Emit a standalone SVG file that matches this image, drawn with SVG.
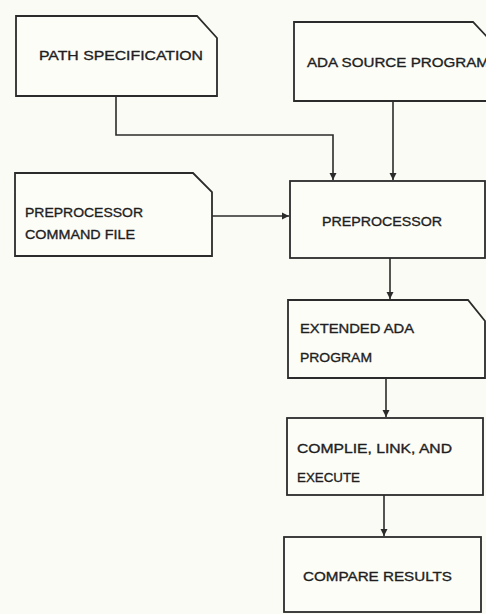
<svg xmlns="http://www.w3.org/2000/svg" width="486" height="614" viewBox="0 0 486 614">
<style>
.box{fill:#fdfdf8;stroke:#2b2b2b;stroke-width:1.8;stroke-linejoin:miter}
.conn{fill:none;stroke:#2b2b2b;stroke-width:1.6}
.t{font-family:"Liberation Sans",Arial,sans-serif;font-size:13.5px;fill:#1e1e1e;stroke:#1e1e1e;stroke-width:0.35}
</style>
<defs>
<marker id="arr" markerUnits="userSpaceOnUse" markerWidth="8" markerHeight="8" refX="7" refY="4" orient="auto">
<path d="M0,0.5 L7,4 L0,7.5 Z" fill="#2b2b2b"/>
</marker>
</defs>
<rect width="486" height="614" fill="#fbfbf6"/>
<g id="connectors">
<path class="conn" d="M116,96 V135 H333 V180" marker-end="url(#arr)"/>
<path class="conn" d="M393,101 V180" marker-end="url(#arr)"/>
<path class="conn" d="M212,216 H289" marker-end="url(#arr)"/>
<path class="conn" d="M390,258 V299" marker-end="url(#arr)"/>
<path class="conn" d="M386,378 V417" marker-end="url(#arr)"/>
<path class="conn" d="M384,495 V536" marker-end="url(#arr)"/>
</g>
<g id="path-specification">
<path class="box" d="M16,16 H197 L217,38 V96 H16 Z"/>
<text class="t" x="39" y="60" textLength="164" lengthAdjust="spacingAndGlyphs">PATH SPECIFICATION</text>
</g>
<g id="ada-source-program">
<path class="box" d="M294,22 H473 L492,42 V101 H294 Z"/>
<text class="t" x="307" y="66.5" textLength="182" lengthAdjust="spacingAndGlyphs">ADA SOURCE PROGRAM</text>
</g>
<g id="preprocessor-command-file">
<path class="box" d="M15,173 H193 L212,192 V256 H15 Z"/>
<text class="t" x="25" y="217" textLength="118" lengthAdjust="spacingAndGlyphs">PREPROCESSOR</text>
<text class="t" x="25" y="239" textLength="110" lengthAdjust="spacingAndGlyphs">COMMAND FILE</text>
</g>
<g id="preprocessor">
<rect class="box" x="290" y="181" width="195" height="77"/>
<text class="t" x="322" y="225.5" textLength="120" lengthAdjust="spacingAndGlyphs">PREPROCESSOR</text>
</g>
<g id="extended-ada-program">
<path class="box" d="M288,300 H468 L485,321 V378 H288 Z"/>
<text class="t" x="300" y="333" textLength="114" lengthAdjust="spacingAndGlyphs">EXTENDED ADA</text>
<text class="t" x="300" y="362" textLength="72" lengthAdjust="spacingAndGlyphs">PROGRAM</text>
</g>
<g id="compile-link-execute">
<rect class="box" x="287" y="418" width="196" height="77"/>
<text class="t" x="297" y="453" textLength="155" lengthAdjust="spacingAndGlyphs">COMPLIE, LINK, AND</text>
<text class="t" x="297" y="482" textLength="63" lengthAdjust="spacingAndGlyphs">EXECUTE</text>
</g>
<g id="compare-results">
<rect class="box" x="284" y="537" width="197" height="75"/>
<text class="t" x="303" y="581" textLength="149" lengthAdjust="spacingAndGlyphs">COMPARE RESULTS</text>
</g>
</svg>
